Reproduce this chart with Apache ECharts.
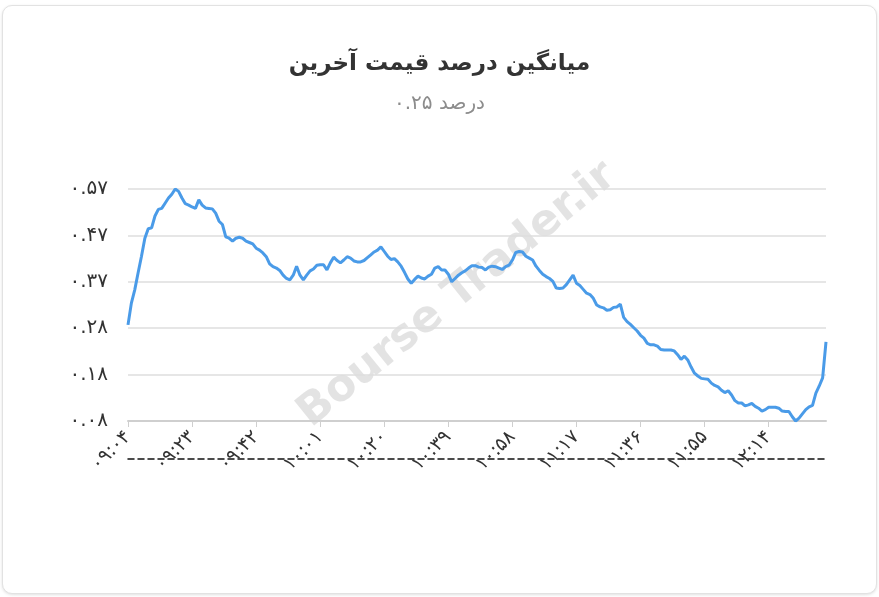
<!DOCTYPE html>
<html>
<head>
<meta charset="utf-8">
<script src="https://cdn.jsdelivr.net/npm/echarts@6/dist/echarts.min.js"></script>
<style>
html,body{margin:0;padding:0;background:#fff;width:879px;height:597px;overflow:hidden;}
#card{position:absolute;left:2px;top:5px;width:873px;height:587px;border:1px solid #e2e2e2;border-radius:10px;box-shadow:0 1px 3px rgba(0,0,0,0.12);background:#fff;}
#chart{position:absolute;left:0;top:0;width:879px;height:597px;}
</style>
</head>
<body>
<div id="card"></div>
<div id="chart"></div>
<script>
// ---- data ----
const titleText = 'میانگین درصد قیمت آخرین';
const subtitleText = 'درصد ۰.۲۵';
const watermarkText = 'Bourse Trader.ir';
const startTime = '09:04';          // first category (one per minute)
const yMin = 0.08, yMax = 0.57, yStep = 0.098;
const values = [
0.283,0.329,0.357,0.393,0.428,0.466,0.486,0.488,0.513,0.527,
0.529,0.540,0.551,0.559,0.570,0.565,0.551,0.539,0.536,0.532,
0.529,0.547,0.536,0.530,0.529,0.528,0.519,0.502,0.495,0.469,
0.466,0.460,0.466,0.468,0.466,0.460,0.457,0.454,0.445,0.441,
0.435,0.427,0.412,0.406,0.403,0.398,0.388,0.381,0.378,0.388,
0.407,0.388,0.378,0.388,0.397,0.401,0.409,0.410,0.410,0.399,
0.414,0.426,0.419,0.414,0.420,0.427,0.424,0.418,0.416,0.416,
0.419,0.425,0.431,0.437,0.441,0.448,0.438,0.428,0.421,0.423,
0.416,0.407,0.394,0.380,0.371,0.379,0.386,0.382,0.380,0.386,
0.390,0.403,0.406,0.399,0.399,0.390,0.374,0.381,0.388,0.393,
0.397,0.403,0.408,0.408,0.405,0.404,0.399,0.405,0.407,0.406,
0.403,0.400,0.406,0.409,0.420,0.436,0.438,0.437,0.428,0.424,
0.420,0.407,0.398,0.390,0.385,0.381,0.375,0.361,0.360,0.361,
0.368,0.378,0.388,0.371,0.366,0.358,0.350,0.347,0.339,0.325,
0.321,0.319,0.314,0.315,0.320,0.321,0.327,0.299,0.290,0.284,
0.277,0.270,0.261,0.255,0.244,0.241,0.241,0.238,0.231,0.230,
0.230,0.230,0.228,0.220,0.210,0.217,0.209,0.194,0.181,0.175,
0.170,0.169,0.168,0.160,0.155,0.152,0.145,0.140,0.144,0.135,
0.123,0.118,0.118,0.112,0.114,0.117,0.111,0.107,0.101,0.104,
0.109,0.109,0.109,0.107,0.101,0.100,0.100,0.089,0.080,0.086,
0.095,0.104,0.110,0.113,0.139,0.154,0.171,0.247
];

// ---- helpers ----
const faDigits = '۰۱۲۳۴۵۶۷۸۹';
function toFa(s){ return String(s).replace(/[0-9]/g, d => faDigits[+d]); }
const categories = [];
{
  const [h0, m0] = startTime.split(':').map(Number);
  for (let i = 0; i < values.length; i++) {
    const t = h0 * 60 + m0 + i;
    const hh = String(Math.floor(t / 60)).padStart(2, '0');
    const mm = String(t % 60).padStart(2, '0');
    categories.push(hh + ':' + mm);
  }
}

const FONT = 'DejaVu Sans';
const chart = echarts.init(document.getElementById('chart'), null, {renderer: 'canvas'});
chart.setOption({
  animation: false,
  title: {
    text: titleText,
    subtext: subtitleText,
    left: 'center',
    top: 48,
    itemGap: 18,
    textStyle: {fontFamily: FONT, fontSize: 23, fontWeight: 'bold', color: '#333'},
    subtextStyle: {fontFamily: FONT, fontSize: 20, color: '#8c8c8c'}
  },
  graphic: [{
    type: 'text',
    z: -1,
    rotation: 0.68,
    originX: 0, originY: 0,
    position: [290, 402],
    style: {text: watermarkText, fontFamily: FONT, fontSize: 44, fontWeight: 'bold', fill: 'rgba(0,0,0,0.11)'}
  }],
  grid: {left: 128, right: 53, top: 189, bottom: 176, containLabel: false},
  xAxis: [{
    type: 'category',
    data: categories,
    boundaryGap: false,
    axisLine: {show: true, lineStyle: {color: '#cfcfcf', width: 2}},
    axisTick: {show: true, interval: 18, length: 6, lineStyle: {color: '#cfcfcf', width: 1}},
    axisLabel: {
      interval: 18, rotate: 45, margin: 13,
      fontFamily: FONT, fontSize: 19, color: '#333',
      formatter: v => toFa(v)
    },
    splitLine: {show: false}
  }, {
    type: 'category',
    data: categories,
    boundaryGap: false,
    position: 'bottom',
    offset: 38,
    axisLine: {show: true, lineStyle: {color: '#111', width: 1.5, type: [6, 4]}},
    axisTick: {show: false},
    axisLabel: {show: false}
  }],
  yAxis: {
    type: 'value',
    min: yMin, max: yMax, interval: yStep,
    axisLine: {show: false},
    axisTick: {show: false},
    splitLine: {lineStyle: {color: '#dedede', width: 1.5}},
    axisLabel: {
      margin: 20, fontFamily: FONT, fontSize: 20, color: '#333',
      formatter: v => toFa(v.toFixed(2))
    }
  },
  series: [{
    type: 'line',
    data: values,
    showSymbol: false,
    symbol: 'none',
    lineStyle: {color: '#4a9be8', width: 3},
    itemStyle: {color: '#4a9be8'}
  }]
});
</script>
</body>
</html>
